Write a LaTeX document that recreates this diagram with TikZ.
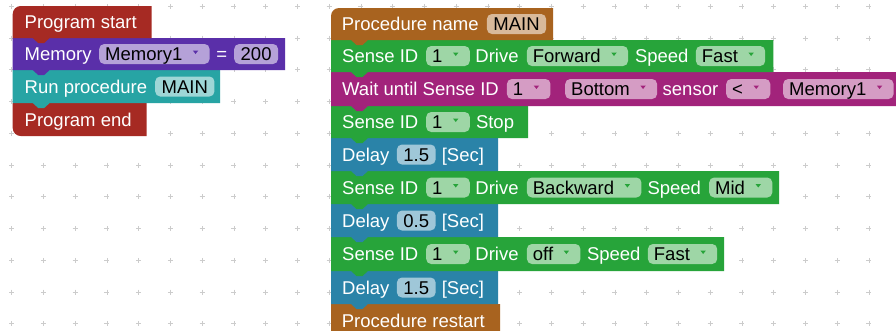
\documentclass[tikz,border=0pt]{standalone}
\usepackage{fontspec}
\setmainfont{Liberation Sans}

\definecolor{blkred}{HTML}{A62A23}
\definecolor{blkpurple}{HTML}{5A2FA9}
\definecolor{blkteal}{HTML}{27A4A4}
\definecolor{blkbrown}{HTML}{A8631F}
\definecolor{blkgreen}{HTML}{27A43A}
\definecolor{blkmagenta}{HTML}{A2237B}
\definecolor{blkblue}{HTML}{2A83A8}
\definecolor{gridgray}{HTML}{CCCCCC}

% Block outlines: colour, left, top, bottom, right.
% A hat block has a rounded top-left corner; every block except the
% last carries a connector tab below its bottom edge.
\newcommand\hatblk[5]{%
  \fill[#1] (#2,#4) -- (#2,#3+8) .. controls (#2,#3+3.6) and (#2+3.6,#3) .. (#2+8,#3)
    -- (#5,#3) -- (#5,#4) -- (#2+37,#4) -- (#2+31.5,#4+5) -- (#2+25.5,#4+5) -- (#2+20,#4) -- cycle;}
\newcommand\midblk[5]{%
  \fill[#1] (#2,#3) -- (#5,#3) -- (#5,#4) -- (#2+37,#4) -- (#2+31.5,#4+5)
    -- (#2+25.5,#4+5) -- (#2+20,#4) -- (#2,#4) -- cycle;}
\newcommand\lastblk[5]{%
  \fill[#1] (#2,#3) -- (#5,#3) -- (#5,#4) -- (#2+8,#4)
    .. controls (#2+3.6,#4) and (#2,#4-3.6) .. (#2,#4-8) -- cycle;}

% Dropdown field contents and the small arrow at its right end
\newcommand\ddtext[1]{\hspace*{6pt}#1\hspace*{27.3pt}}
\newcommand\ddarrow[2]{\fill[#2] ([xshift=-11.5pt,yshift=3.5pt]#1.east) -- ++(-5.5pt,0pt) -- ++(2.75pt,-3.5pt) -- cycle;}

\begin{document}
\begin{tikzpicture}[x=1pt,y=-1pt,
  every node/.style={font=\fontsize{18.5}{22}\selectfont},
  blab/.style={anchor=west, inner sep=0pt, text=white, text height=13.25pt, text depth=0pt},
  fld/.style={anchor=west, fill=#1!45!white, rounded corners=5pt, inner xsep=6.5pt, inner ysep=0pt,
              minimum height=20pt, text height=13.25pt, text depth=0pt, text=black},
  ddf/.style={fld=#1, inner xsep=0pt},
  gridmark/.style={draw=gridgray, line width=0.9pt}]

\useasboundingbox (0,0) rectangle (896,330);
\fill[white] (0,0) rectangle (896,330);

% workspace grid
\foreach \i in {0,...,27}{
  \foreach \j in {0,...,10}{
    \pgfmathsetmacro\px{11.7+31.75*\i}
    \pgfmathsetmacro\py{6.3+31.75*\j}
    \draw[gridmark] (\px-2.5,\py) -- (\px+2.5,\py) (\px,\py-2.5) -- (\px,\py+2.5);
  }
}

% ---- main program stack (drawn bottom-up so tabs overlap) ----
\lastblk{blkred}{12.7}{103}{136}{146.7}
\midblk{blkteal}{12.7}{70}{103}{220}
\midblk{blkpurple}{12.7}{38}{70}{285}
\hatblk{blkred}{12.7}{6}{38}{151.7}

% ---- procedure MAIN stack ----
\midblk{blkbrown}{331}{304}{345}{500}
\midblk{blkblue}{331}{271}{304}{498}
\midblk{blkgreen}{331}{237}{271}{724}
\midblk{blkblue}{331}{204}{237}{498}
\midblk{blkgreen}{331}{171}{204}{779}
\midblk{blkblue}{331}{138}{171}{498}
\midblk{blkgreen}{331}{106}{138}{528}
\midblk{blkmagenta}{331}{72}{106}{905}
\midblk{blkgreen}{331}{40}{72}{773.3}
\hatblk{blkbrown}{331}{8}{40}{553}

% ---- main program texts ----
\node[blab] (ps) at (24.5,22) {Program start};
\node[blab] (mem) at (24.5,54) {Memory};
\node[ddf=blkpurple] (memf) at (99,54) {\ddtext{Memory1}};
\node[blab] (eq) at (216.2,54) {=};
\node[fld=blkpurple] (memv) at (234,54) {200};
\node[blab] (run) at (24.5,86.5) {Run procedure};
\node[fld=blkteal] (runf) at (155,86.5) {MAIN};
\node[blab] (pe) at (24.5,119.5) {Program end};

% ---- procedure texts ----
\node[blab] (pn) at (341.7,24) {Procedure name};
\node[fld=blkbrown] (pnf) at (486.7,24) {MAIN};

\node[blab] (s1a) at (342,56) {Sense ID};
\node[ddf=blkgreen] (s1id) at (426,56) {\ddtext{1}};
\node[blab] (s1b) at (475.2,56) {Drive};
\node[ddf=blkgreen] (s1dir) at (526.7,56) {\ddtext{Forward}};
\node[blab] (s1c) at (634.8,56) {Speed};
\node[ddf=blkgreen] (s1spd) at (695.7,56) {\ddtext{Fast}};

\node[blab] (wa) at (342,89) {Wait until Sense ID};
\node[ddf=blkmagenta] (waid) at (506.7,89) {\ddtext{1}};
\node[ddf=blkmagenta] (wapos) at (565,89) {\ddtext{Bottom}};
\node[blab] (wb) at (662.5,89) {sensor};
\node[ddf=blkmagenta] (waop) at (726,89) {\ddtext{<}};
\node[ddf=blkmagenta] (wamem) at (783,89) {\ddtext{Memory1}};

\node[blab] (s2a) at (342,122) {Sense ID};
\node[ddf=blkgreen] (s2id) at (426,122) {\ddtext{1}};
\node[blab] (s2b) at (475.8,122) {Stop};

\node[blab] (d1a) at (342,154.5) {Delay};
\node[fld=blkblue] (d1v) at (396.7,154.5) {1.5};
\node[blab] (d1b) at (441.6,154.5) {[Sec]};

\node[blab] (s3a) at (342,187.5) {Sense ID};
\node[ddf=blkgreen] (s3id) at (426,187.5) {\ddtext{1}};
\node[blab] (s3b) at (475.2,187.5) {Drive};
\node[ddf=blkgreen] (s3dir) at (526.7,187.5) {\ddtext{Backward}};
\node[blab] (s3c) at (647.3,187.5) {Speed};
\node[ddf=blkgreen] (s3spd) at (709,187.5) {\ddtext{Mid}};

\node[blab] (d2a) at (342,220.5) {Delay};
\node[fld=blkblue] (d2v) at (396.7,220.5) {0.5};
\node[blab] (d2b) at (441.6,220.5) {[Sec]};

\node[blab] (s4a) at (342,254) {Sense ID};
\node[ddf=blkgreen] (s4id) at (426,254) {\ddtext{1}};
\node[blab] (s4b) at (475.2,254) {Drive};
\node[ddf=blkgreen] (s4dir) at (526.7,254) {\ddtext{off}};
\node[blab] (s4c) at (586.8,254) {Speed};
\node[ddf=blkgreen] (s4spd) at (647.7,254) {\ddtext{Fast}};

\node[blab] (d3a) at (342,287.5) {Delay};
\node[fld=blkblue] (d3v) at (396.7,287.5) {1.5};
\node[blab] (d3b) at (441.6,287.5) {[Sec]};

\node[blab] (pr) at (341.7,320.5) {Procedure restart};

% ---- dropdown arrows ----
\ddarrow{memf}{blkpurple}
\ddarrow{s1id}{blkgreen}
\ddarrow{s1dir}{blkgreen}
\ddarrow{s1spd}{blkgreen}
\ddarrow{waid}{blkmagenta}
\ddarrow{wapos}{blkmagenta}
\ddarrow{waop}{blkmagenta}
\ddarrow{wamem}{blkmagenta}
\ddarrow{s2id}{blkgreen}
\ddarrow{s3id}{blkgreen}
\ddarrow{s3dir}{blkgreen}
\ddarrow{s3spd}{blkgreen}
\ddarrow{s4id}{blkgreen}
\ddarrow{s4dir}{blkgreen}
\ddarrow{s4spd}{blkgreen}
\end{tikzpicture}
\end{document}
